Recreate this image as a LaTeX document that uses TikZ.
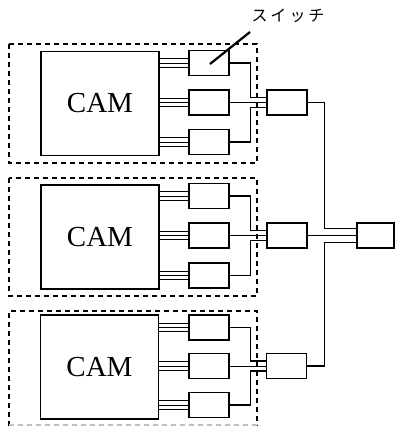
\documentclass[tikz,border=0pt]{standalone}
\usepackage{fontspec}
\setmainfont{Liberation Serif}
\newfontfamily\jpfont{Noto Sans CJK JP}
\begin{document}
\begin{tikzpicture}[x=1pt,y=-1pt,
  box/.style={draw,line width=1.4pt,inner sep=0pt,minimum width=40pt,minimum height=25pt},
  cambox/.style={draw,line width=1.4pt,inner sep=0pt,minimum width=118pt,minimum height=104pt,font=\fontsize{29}{32}\selectfont},
  dashbox/.style={line width=1.7pt,dash pattern=on 5pt off 4pt},
  thinwire/.style={line width=1pt},
  wire/.style={line width=1.4pt}]
\useasboundingbox (0,0) rectangle (395,426);
% dashed groups
\draw[dashbox] (9,44) rectangle (257,163);
\draw[dashbox] (9,178) rectangle (257,296);
\draw[dashbox] (9,426) -- (9,311) -- (257,311) -- (257,426);
\draw[dashbox,gray!50] (9,425) -- (257,425);
% CAMs
\node[cambox] (cam1) at (100,103.5) {CAM};
\node[cambox] (cam2) at (100,237) {CAM};
\node[cambox] (cam3) at (99.5,367) {CAM};
% switches
\foreach \g/\a/\b/\c in {1/63/102.5/142, 2/196/235.5/275.5, 3/327.5/366/405}{
  \node[box] (s\g1) at (209,\a) {};
  \node[box] (s\g2) at (209,\b) {};
  \node[box] (s\g3) at (209,\c) {};
}
% middle boxes
\node[box] (m1) at (287,102.5) {};
\node[box] (m2) at (287,235.5) {};
\node[box] (m3) at (286.5,366) {};
% final
\node[box,minimum width=37pt] (f) at (375.5,235.5) {};
% triple wires CAM -> switch
\foreach \g in {1,2,3}{
  \foreach \k in {1,2,3}{
    \foreach \d in {-4.4,0,4.4}{
      \draw[thinwire] ([yshift=\d pt]s\g\k.west) -- ([yshift=\d pt]s\g\k.west -| cam\g.east);
    }
  }
  % switch -> middle
  \draw[wire] (s\g1.east) -- ++(21,0) |- ([yshift=5pt]m\g.west);
  \draw[thinwire] (s\g2.east) -- (m\g.west);
  \draw[wire] (s\g3.east) -- ++(21,0) |- ([yshift=-5pt]m\g.west);
}
% middle -> final
\draw[wire] (m1.east) -- ++(17,0) |- ([yshift=7pt]f.west);
\draw[thinwire] (m2.east) -- (f.west);
\draw[wire] (m3.east) -- ++(17.5,0) |- ([yshift=-7pt]f.west);
% label
\node[font=\jpfont\fontsize{16}{18}\selectfont] (lab) at (288,16) {ス\hspace{3pt}イ\hspace{3pt}ッ\hspace{3pt}チ};
\coordinate (tip) at (210,64);
\draw[line width=2.2pt] (250,32) -- (tip);
\end{tikzpicture}
\end{document}
